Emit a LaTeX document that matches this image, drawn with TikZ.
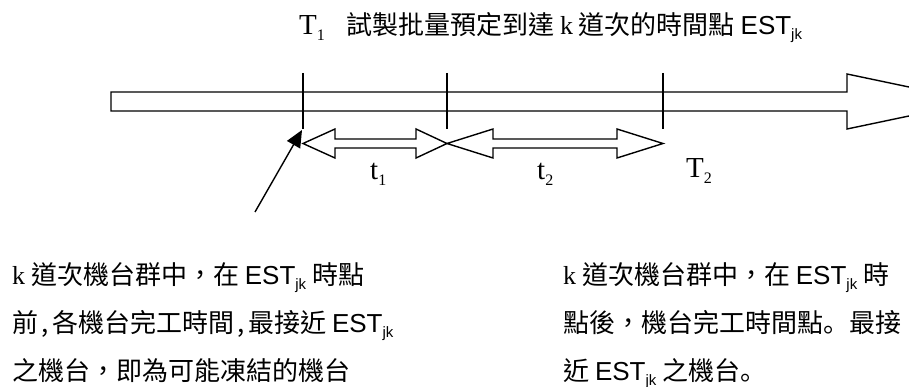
\documentclass[tikz,border=0pt]{standalone}
\usepackage{fontspec}
\setmainfont{Noto Sans CJK TC}
\newfontfamily\serifL{Liberation Serif}
\newfontfamily\sansL{Liberation Sans}
\newfontfamily\jpfont{Noto Sans CJK JP}
\usetikzlibrary{arrows.meta}
\newcommand\myEST{{\sansL EST}\raisebox{-5pt}{\fontsize{15}{15}\selectfont\sansL jk}}
\newcommand\myk{{\serifL k}}
\newcommand\mysub[2]{{\fontsize{29}{29}\selectfont\serifL #1}\raisebox{-6pt}{\fontsize{16}{16}\selectfont\serifL #2}}
\newcommand\hwcomma{\makebox[14pt][c]{,}}
\begin{document}
\begin{tikzpicture}[x=1pt,y=-1pt,
  txt/.style={anchor=base west,inner sep=0pt,font=\fontsize{26}{26}\selectfont},
  shape line/.style={draw=black,line width=1.4pt,line join=miter,fill=white},
  tick/.style={draw=black,line width=1.4pt}]
\useasboundingbox (0,0) rectangle (909,387);
\fill[white] (0,0) rectangle (909,387);
\clip (0,0) rectangle (909,387);
% main time axis
\draw[shape line] (111,92) -- (847,92) -- (847,74) -- (978,101.5) -- (847,129) -- (847,111) -- (111,111) -- cycle;
% tick coordinates
\coordinate (a1) at (303,73); \coordinate (b1) at (303,129);
\coordinate (a2) at (447,73); \coordinate (b2) at (447,129);
\coordinate (a3) at (663,73); \coordinate (b3) at (663,129);
\draw[tick] (a1) -- (b1);
\draw[tick] (a2) -- (b2);
\draw[tick] (a3) -- (b3);
% double arrows
\draw[shape line] (303,143.5) -- (335,129) -- (335,139) -- (416,139) -- (416,129) -- (447,143.5) -- (416,158) -- (416,148) -- (335,148) -- (335,158) -- cycle;
\draw[shape line] (447,143.5) -- (493,129) -- (493,139) -- (617,139) -- (617,129) -- (663,143.5) -- (617,158) -- (617,148) -- (493,148) -- (493,158) -- cycle;
% pointer arrow
\coordinate (src) at (255,212);
\coordinate (tip) at (302,130);
\draw[line width=1.4pt,-{Triangle[length=17pt,width=15pt]}] (src) -- (tip);
% labels
\node[txt] (T1) at (299,35) {\mysub{T}{1}};
\node[txt] (title) at (346,35) {試製批量預定到達 \myk\ 道次的時間點 \myEST};
\node[txt] (t1) at (370,180) {\mysub{t}{1}};
\node[txt] (t2) at (537,180) {\mysub{t}{2}};
\node[txt] (T2) at (686,178) {\mysub{T}{2}};
% left text
\node[txt] (L1) at (12,284) {\myk\ 道次機台群中，在 \myEST\ 時點};
\node[txt] (L2) at (12,332) {前\hwcomma 各機台完工時間\hwcomma 最接近 \myEST};
\node[txt] (L3) at (12,380) {之機台，即為可能凍結的機台};
% right text
\node[txt] (R1) at (563,284) {\myk\ 道次機台群中，在 \myEST\ 時};
\node[txt] (R2) at (563,332) {點後，機台完工時間點{\jpfont 。}最接};
\node[txt] (R3) at (563,380) {近 \myEST\ 之機台{\jpfont 。}};
\end{tikzpicture}
\end{document}
